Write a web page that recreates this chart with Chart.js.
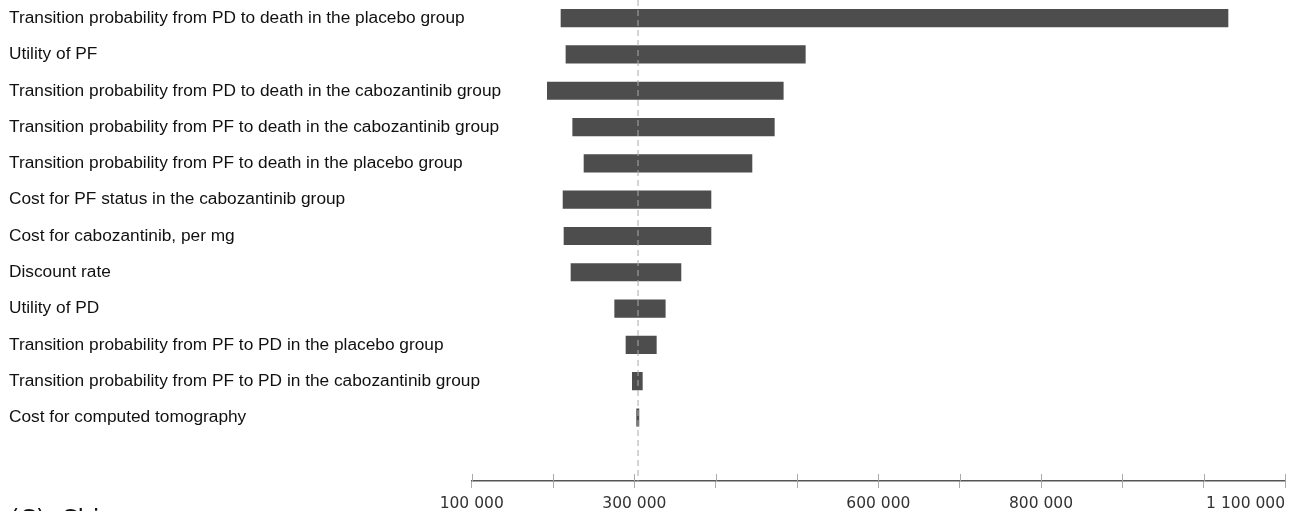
<!DOCTYPE html>
<html>
<head>
<meta charset="utf-8">
<script src="https://cdn.jsdelivr.net/npm/chart.js@4.4.0/dist/chart.umd.min.js"></script>
<style>
  html, body { margin: 0; padding: 0; background: #fff; overflow: hidden; }
  #wrap { position: relative; width: 1299px; height: 511px; }
  #panel { position: absolute; left: 10px; top: 507px; font: 24px "DejaVu Sans", sans-serif; line-height: 24px; color: #111; white-space: pre; }
</style>
</head>
<body>
<div id="wrap">
  <canvas id="tornado" width="1299" height="511"></canvas>
  <div id="panel">(C)  China</div>
</div>
<script>
// Parametros del analisis de sensibilidad (de arriba hacia abajo)
const parameters = [
  "Transition probability from PD to death in the placebo group",
  "Utility of PF",
  "Transition probability from PD to death in the cabozantinib group",
  "Transition probability from PF to death in the cabozantinib group",
  "Transition probability from PF to death in the placebo group",
  "Cost for PF status in the cabozantinib group",
  "Cost for cabozantinib, per mg",
  "Discount rate",
  "Utility of PD",
  "Transition probability from PF to PD in the placebo group",
  "Transition probability from PF to PD in the cabozantinib group",
  "Cost for computed tomography",
];

// Extremos de cada barra (ICER)
const lowValues = [209800, 215900, 193000, 224200, 238100, 212300, 213500, 222100, 275800, 289700, 297500, 302800];
const highValues = [1029900, 510200, 483100, 472100, 444600, 394200, 394200, 357300, 338000, 327000, 309800, 305600];

// Caso base (linea discontinua)
const baseCase = 304500;

// Etiquetas visibles del eje X
const xTickLabels = [100000, 300000, 600000, 800000, 1100000];

const fmt = (v) => String(v).replace(/\B(?=(\d{3})+(?!\d))/g, " ");

// Linea del caso base, marcas y etiquetas del eje X
const tornadoExtras = {
  id: "tornadoExtras",
  afterLayout(chart) {
    // las etiquetas largas invaden el area del grafico: ampliar el recorte
    chart.scales.y.right = chart.width;
  },
  afterDatasetsDraw(chart) {
    const { ctx, chartArea, scales: { x } } = chart;
    const px = x.getPixelForValue(baseCase);
    ctx.save();
    ctx.strokeStyle = "#aaaaaa";
    ctx.lineWidth = 1;
    ctx.setLineDash([6, 4]);
    ctx.beginPath();
    ctx.moveTo(px, chartArea.top);
    ctx.lineTo(px, chartArea.bottom);
    ctx.stroke();
    ctx.restore();
  },
  afterDraw(chart) {
    const { ctx, chartArea, scales: { x } } = chart;
    ctx.save();
    // marcas tambien por encima del eje
    ctx.strokeStyle = "#aaaaaa";
    ctx.lineWidth = 1;
    x.ticks.forEach((t, i) => {
      const px = Math.round(x.getPixelForTick(i)) + 0.5;
      ctx.beginPath();
      ctx.moveTo(px, chartArea.bottom - 7);
      ctx.lineTo(px, chartArea.bottom);
      ctx.stroke();
    });
    ctx.font = '15.5px "DejaVu Sans", sans-serif';
    ctx.fillStyle = "#333";
    ctx.textBaseline = "alphabetic";
    xTickLabels.forEach((v, i) => {
      ctx.textAlign = i === xTickLabels.length - 1 ? "right" : "center";
      ctx.fillText(fmt(v), x.getPixelForValue(v), chartArea.bottom + 27);
    });
    ctx.restore();
  },
};

new Chart(document.getElementById("tornado"), {
  type: "bar",
  plugins: [tornadoExtras],
  data: {
    datasets: [{
      data: lowValues.map((lo, i) => ({ x: [lo, highValues[i]], y: i })),
      backgroundColor: "#4d4d4d",
      borderWidth: 0,
      barThickness: 17.5,
    }],
  },
  options: {
    indexAxis: "y",
    responsive: false,
    animation: false,
    layout: { padding: { left: 9, right: 14, top: 0, bottom: 23 } },
    plugins: { legend: { display: false }, tooltip: { enabled: false } },
    scales: {
      y: {
        type: "linear",
        reverse: true,
        offset: false,
        bounds: "data",
        min: -0.5,
        max: 12.75,
        afterBuildTicks: (s) => { s.ticks = parameters.map((_, i) => ({ value: i })); },
        afterFit: (s) => { s.width = 462.7; s.paddingTop = 0; s.paddingBottom = 0; },
        grid: { display: false },
        border: { display: false },
        ticks: {
          autoSkip: false,
          crossAlign: "far",
          padding: 0,
          color: "#111",
          font: { family: '"Liberation Sans", Arial, sans-serif', size: 17.3 },
          callback: (v) => parameters[Math.round(v)] || "",
        },
      },
      x: {
        type: "linear",
        min: 100000,
        max: 1100000,
        afterFit: (s) => { s.paddingLeft = 0; s.paddingRight = 0; },
        grid: { drawOnChartArea: false, drawTicks: true, tickLength: 7, color: "#aaaaaa" },
        border: { display: true, color: "#555", width: 1.5 },
        ticks: { display: false, stepSize: 100000 },
      },
    },
  },
});
</script>
</body>
</html>
